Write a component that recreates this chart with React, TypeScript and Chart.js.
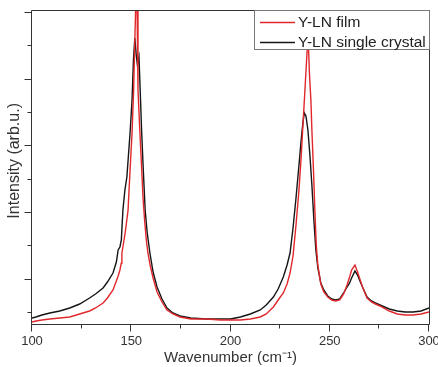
import { useEffect, useRef } from 'react';
import { Chart, registerables } from 'chart.js';

Chart.register(...registerables);

const seriesLabels = ['Y-LN film', 'Y-LN single crystal'];
const seriesColors = ['#e0282c', '#151515'];

const filmWavenumber = [
  100, 102, 105, 109, 114, 119, 124, 129, 132, 135.8, 138, 140.8, 142.5, 143.4, 144.3, 145, 145.3, 146.2, 147,
  148.4, 149.4, 150.4, 151.2, 151.8, 152.4, 152.9, 153.4, 154.3, 155.2, 156, 156.8, 157.6, 158.4, 159.5, 161,
  163, 165.5, 168, 171, 174.6, 180, 188, 195, 200, 205, 210, 215, 218, 221.6, 224, 226.6, 228.5, 230, 231.5,
  233, 234.5, 235.5, 236.5, 237.5, 238.2, 238.8, 239.3, 239.8, 240.5, 241, 241.8, 242.5, 243.2, 244, 245.5,
  247, 249, 251, 253, 255, 257, 258.7, 260, 261, 262.7, 264, 265, 266.5, 268.8, 271, 273, 275.3, 280, 284,
  288, 292, 296, 300,
];
const filmIntensity = [
  -300, -270, -240, -210, -180, -150, -60, 30, 120, 270, 420, 660, 930, 1080, 1260, 1470, 1770, 2100, 2400,
  3060, 4260, 5370, 6660, 8160, 9510, 9360, 6660, 5460, 4350, 3360, 2700, 2160, 1770, 1410, 1020,
  600, 300, 60, -60, -150, -210, -210, -240, -240, -240, -210, -150, -60, 150, 360, 570, 840, 1170, 1680,
  2610, 3660, 4560, 5610, 6660, 7410, 8040, 7950, 7110, 6360, 5460, 4260, 3060, 2010, 1410, 840,
  600, 450, 360, 330, 360, 540, 810, 1050, 1260, 1410, 1200, 1020, 750, 420, 300, 240, 180, 30, -60,
  -90, -90, -60, 0,
];

const crystalWavenumber = [
  100, 102, 105, 109, 114, 119, 124, 129, 132, 135.8, 138, 140.8, 142.5, 143.4, 144.3, 145, 145.8, 146.8,
  147.8, 148.6, 149.4, 150.4, 151.1, 151.8, 152.5, 153.1, 153.9, 154.5, 155.2, 156, 157, 158, 159.4, 161,
  163, 165.5, 168, 171, 174.6, 180, 188, 195, 200, 205, 210, 215, 218, 221.6, 224, 226.6, 228.5, 230, 231.5,
  233, 234.5, 235.5, 236.5, 237.2, 238, 239, 240, 241, 242, 243, 244, 245.5, 247, 249, 251, 253, 255, 257,
  258.7, 260, 261, 262.7, 264, 265, 266.5, 268.8, 271, 273, 275.3, 280, 284, 288, 292, 296, 300,
];
const crystalIntensity = [
  -180, -150, -90, -30, 30, 120, 240, 420, 540, 720, 900, 1170, 1500, 1860, 1950, 2160, 3060, 3660,
  4050, 4710, 5370, 6360, 7560, 8220, 7710, 7410, 7650, 6660, 5460, 4350, 3060, 2400, 1770, 1200,
  750, 390, 120, -30, -120, -180, -210, -210, -210, -150, -60, 60, 210, 450, 690, 1050, 1410, 1770, 2520,
  3420, 4410, 5100, 5700, 5970, 5880, 5460, 4710, 3810, 2760, 1860, 1320, 870, 660, 480, 390, 360, 390, 570,
  750, 870, 1020, 1230, 1110, 960, 750, 450, 330, 270, 210, 90, 30, 0, 0, 30, 120,
];

const xMajorTicks = [100, 150, 200, 250, 300];
const xMinorTicks = [125, 175, 225, 275];
const yMajorTicks = [1000, 3000, 5000, 7000, 9000];
const yMinorTicks = [0, 2000, 4000, 6000, 8000];

const xTitle = 'Wavenumber (cm\u207B\u00B9)';
const yTitle = '\u00A0\u00A0\u00A0Intensity (arb.u.)';

const FONT = "'Liberation Sans', Arial, sans-serif";
const INK = '#333333';

const framePlugin = {
  id: 'frameAndTicks',
  afterDraw(chart: any) {
    const { ctx, chartArea, scales } = chart;
    const { left, right, top, bottom } = chartArea;
    const x = scales.x;
    const y = scales.y;
    ctx.save();
    ctx.strokeStyle = INK;
    ctx.lineWidth = 1;
    ctx.beginPath();
    ctx.rect(Math.round(left) - 0.5, Math.round(top) - 0.5, Math.round(right - left) + 1, Math.round(bottom - top) + 1);
    ctx.stroke();
    const tick = (x1: number, y1: number, x2: number, y2: number) => {
      ctx.beginPath();
      ctx.moveTo(x1, y1);
      ctx.lineTo(x2, y2);
      ctx.stroke();
    };
    const b = Math.round(bottom) + 0.5;
    xMajorTicks.forEach((v) => {
      const px = Math.round(x.getPixelForValue(v)) - 0.5;
      tick(px, b, px, b + 7);
    });
    xMinorTicks.forEach((v) => {
      const px = Math.round(x.getPixelForValue(v)) - 0.5;
      tick(px, b, px, b + 4);
    });
    const l = Math.round(left) - 0.5;
    yMajorTicks.forEach((v) => {
      const py = Math.round(y.getPixelForValue(v)) + 0.5;
      tick(l, py, l - 7, py);
    });
    yMinorTicks.forEach((v) => {
      const py = Math.round(y.getPixelForValue(v)) + 0.5;
      tick(l, py, l - 4, py);
    });

    // legend box inside the plot area, top right
    const boxW = 175;
    const boxH = 39;
    const bx = Math.round(right) - boxW;
    const by = Math.round(top);
    ctx.fillStyle = '#ffffff';
    ctx.fillRect(bx, by, boxW, boxH);
    ctx.strokeStyle = '#777777';
    ctx.strokeRect(bx + 0.5, by - 0.5, boxW, boxH);
    ctx.font = `15.5px ${FONT}`;
    ctx.textBaseline = 'middle';
    ctx.textAlign = 'left';
    chart.data.datasets.forEach((ds: any, i: number) => {
      const cy = by + 11 + i * 20;
      ctx.strokeStyle = ds.borderColor;
      ctx.lineWidth = 1.5;
      tick(bx + 6, cy + 0.5, bx + 41, cy + 0.5);
      ctx.fillStyle = '#222222';
      ctx.fillText(ds.label, bx + 44, cy + 1);
    });
    ctx.restore();
  },
};

export default function App() {
  const ref = useRef<HTMLCanvasElement | null>(null);
  useEffect(() => {
    if (!ref.current) return;
    const chart = new Chart(ref.current, {
      type: 'line',
      data: {
        datasets: [
          {
            label: seriesLabels[0],
            data: filmWavenumber.map((w, i) => ({ x: w, y: filmIntensity[i] })),
            borderColor: seriesColors[0],
            borderWidth: 1.4,
            pointRadius: 0,
            tension: 0,
            fill: false,
          },
          {
            label: seriesLabels[1],
            data: crystalWavenumber.map((w, i) => ({ x: w, y: crystalIntensity[i] })),
            borderColor: seriesColors[1],
            borderWidth: 1.4,
            pointRadius: 0,
            tension: 0,
            fill: false,
          },
        ],
      },
      plugins: [framePlugin],
      options: {
        responsive: false,
        animation: false,
        layout: { padding: { left: 0, top: 11, right: 9, bottom: 0 } },
        plugins: { legend: { display: false }, tooltip: { enabled: false } },
        scales: {
          x: {
            type: 'linear',
            min: 100,
            max: 300,
            afterBuildTicks: (axis: any) => {
              axis.ticks = xMajorTicks.map((v) => ({ value: v }));
            },
            afterFit: (scale: any) => {
              scale.height = 43;
              scale.paddingLeft = 0;
              scale.paddingRight = 0;
            },
            grid: { display: false, drawTicks: false },
            border: { display: false },
            ticks: {
              padding: 10,
              maxRotation: 0,
              autoSkip: false,
              color: INK,
              font: { family: FONT, size: 13 },
            },
            title: {
              display: true,
              text: xTitle,
              color: INK,
              font: { family: FONT, size: 15 },
              padding: { top: 0, bottom: 0 },
            },
          },
          y: {
            type: 'linear',
            min: -360,
            max: 9030,
            afterBuildTicks: (axis: any) => {
              axis.ticks = yMajorTicks.map((v) => ({ value: v }));
            },
            afterFit: (scale: any) => {
              scale.width = 32;
              scale.paddingTop = 0;
              scale.paddingBottom = 0;
            },
            grid: { display: false, drawTicks: false },
            border: { display: false },
            ticks: { display: false },
            title: {
              display: true,
              text: yTitle,
              color: INK,
              font: { family: FONT, size: 16 },
              padding: { top: 5, bottom: 0 },
            },
          },
        },
      },
    } as any);
    return () => chart.destroy();
  }, []);
  return (
    <div style={{ position: 'fixed', left: 0, top: 0, width: 438, height: 367, background: '#fff' }}>
      <canvas ref={ref} width={438} height={367} style={{ display: 'block' }} />
    </div>
  );
}
